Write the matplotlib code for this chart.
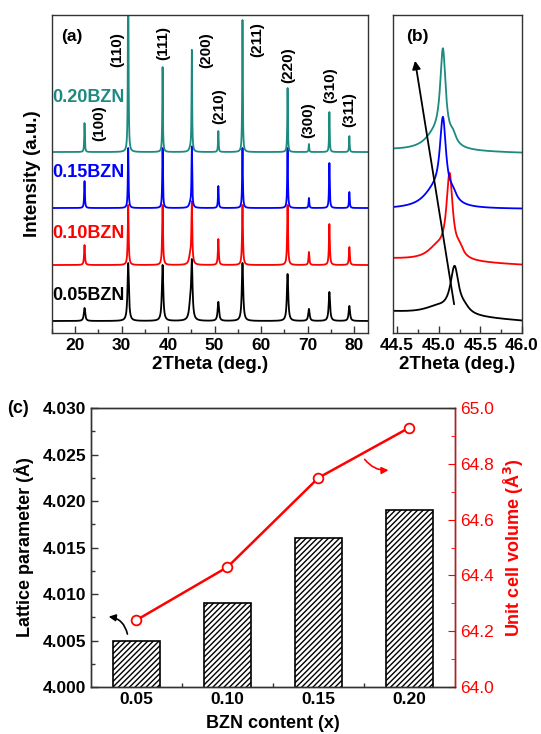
import numpy as np
import matplotlib
matplotlib.use("Agg")
import matplotlib.pyplot as plt
from matplotlib.ticker import MultipleLocator, FixedLocator

plt.rcParams['font.family'] = ['Liberation Sans', 'DejaVu Sans']
plt.rcParams['font.weight'] = 'bold'
plt.rcParams['axes.labelweight'] = 'bold'
plt.rcParams['axes.linewidth'] = 1.0

# samples, bottom to top
SAMPLES = ["0.05BZN", "0.10BZN", "0.15BZN", "0.20BZN"]
COLORS = ["#000000", "#ff0000", "#0000ff", "#1d8a80"]
OFFSETS = [12, 68, 125, 181]
FWHM = [0.35, 0.22, 0.18, 0.15]

# (a) full pattern: reflections and peak heights above each baseline
HKL = ["(100)", "(110)", "(111)", "(200)", "(210)", "(211)", "(220)", "(300)", "(310)", "(311)"]
PEAK_POS = [22.0, 31.4, 38.8, 45.1, 50.8, 56.0, 65.7, 70.3, 74.7, 79.0]
HEIGHTS = [
    [13, 58, 56, 56, 19, 58, 47, 12, 29, 15],
    [20, 60, 60, 60, 26, 60, 60, 13, 41, 18],
    [27, 60, 60, 60, 22, 60, 60, 10, 45, 16],
    [29, 220, 85, 101, 21, 132, 64, 8, 40, 16],
]
SHOULDER_H = [14, 9, 4, 3]   # low-angle shoulder of (200)
HKL_X = [25.1, 29.0, 38.9, 48.1, 50.9, 59.1, 65.8, 70.1, 74.8, 78.9]
HKL_Y = [210, 283, 290, 283, 227, 293, 268, 213, 248, 223]
NAME_Y = [38, 100, 161, 236]

# (b) (200) region
B_POS = [45.19, 45.13, 45.05, 45.05]
B_H = [46, 82, 80, 92]
B_W = [0.12, 0.09, 0.09, 0.08]
B_SH_POS = [44.98, 44.98, 44.94, 44.95]
B_SH_H = [7, 12, 16, 14]
B_SH_W = [0.40, 0.28, 0.32, 0.30]
B_BASE_L = [21, 74, 124, 183]
B_BASE_R = [12, 68, 124, 180]

# (c) lattice parameter and cell volume
BZN_X = [0.05, 0.10, 0.15, 0.20]
BZN_LABELS = ["0.05", "0.10", "0.15", "0.20"]
LATTICE = [4.005, 4.009, 4.016, 4.019]
VOLUME = [64.24, 64.43, 64.75, 64.93]

SPINE = "#333333"


def lorentz(x, x0, h, w):
    g = w / 2.0
    return h * g**2 / ((x - x0)**2 + g**2)


def style_axes(ax):
    for s in ax.spines.values():
        s.set_color(SPINE)
    ax.tick_params(which='both', direction='in', colors=SPINE, labelcolor='black',
                   labelsize=12.5, width=1.0)
    ax.tick_params(which='major', length=5)
    ax.tick_params(which='minor', length=3)


fig = plt.figure(figsize=(5.41, 7.34), dpi=100)

# ---- (a) ----
axa = fig.add_axes([0.0961, 0.5463, 0.584, 0.4332])
xa = np.linspace(15, 83, 8000)
for i in range(4):
    y = np.full_like(xa, OFFSETS[i], dtype=float)
    for p, h in zip(PEAK_POS, HEIGHTS[i]):
        y += lorentz(xa, p, h, FWHM[i])
    y += lorentz(xa, 44.75, SHOULDER_H[i], 0.6)
    axa.plot(xa, y, color=COLORS[i], lw=1.3)
    axa.text(30.7, NAME_Y[i], SAMPLES[i], color=COLORS[i], fontsize=13,
             ha='right', va='center')
for lab, hx, hy in zip(HKL, HKL_X, HKL_Y):
    axa.text(hx, hy, lab, rotation=90, fontsize=11, ha='center', va='center')
axa.set_xlim(15, 83)
axa.set_ylim(0, 318)
axa.set_yticks([])
axa.xaxis.set_major_locator(MultipleLocator(10))
axa.xaxis.set_minor_locator(MultipleLocator(5))
style_axes(axa)
axa.set_xlabel("2Theta (deg.)", fontsize=13.5, labelpad=2)
axa.set_ylabel("Intensity (a.u.)", fontsize=13.5, labelpad=8)
axa.text(0.03, 0.955, "(a)", transform=axa.transAxes, fontsize=12.5, va='top')

# ---- (b) ----
axb = fig.add_axes([0.7264, 0.5463, 0.2384, 0.4332])
xb = np.linspace(44.45, 46.0, 1500)
for i in range(4):
    base = B_BASE_L[i] + (B_BASE_R[i] - B_BASE_L[i]) * (xb - 44.45) / 1.55
    y = base + lorentz(xb, B_POS[i], B_H[i], B_W[i])
    y += lorentz(xb, B_POS[i] + 0.12, 0.1 * B_H[i], B_W[i] * 1.2)
    y += lorentz(xb, B_SH_POS[i], B_SH_H[i], B_SH_W[i])
    axb.plot(xb, y, color=COLORS[i], lw=1.3)
axb.annotate("", xy=(44.71, 275), xytext=(45.19, 26),
             arrowprops=dict(arrowstyle='-|>', color='black', lw=1.3, mutation_scale=12))
axb.set_xlim(44.45, 46.0)
axb.set_ylim(0, 318)
axb.set_yticks([])
axb.set_xticks([44.5, 45.0, 45.5, 46.0])
axb.set_xticklabels(["44.5", "45.0", "45.5", "46.0"])
axb.xaxis.set_minor_locator(MultipleLocator(0.25))
style_axes(axb)
axb.set_xlabel("2Theta (deg.)", fontsize=13.5, labelpad=2)
axb.text(0.1, 0.955, "(b)", transform=axb.transAxes, fontsize=12.5, va='top')

# ---- (c) ----
axc = fig.add_axes([0.1682, 0.064, 0.6728, 0.3801])
axc.bar(BZN_X, LATTICE, width=0.026, bottom=0, color='white', edgecolor='black',
        hatch='//////', lw=1.2, zorder=2)
axc.set_xlim(0.025, 0.225)
axc.set_ylim(4.000, 4.030)
axc.set_xticks(BZN_X)
axc.set_xticklabels(BZN_LABELS)
axc.xaxis.set_minor_locator(FixedLocator([0.075, 0.125, 0.175]))
axc.yaxis.set_major_locator(MultipleLocator(0.005))
axc.yaxis.set_minor_locator(MultipleLocator(0.0025))
axc.set_yticklabels([f"{v:.3f}" for v in axc.get_yticks()])
style_axes(axc)
axc.set_xlabel("BZN content (x)", fontsize=13, labelpad=6)
axc.set_ylabel("Lattice parameter (Å)", fontsize=13, labelpad=6)
axc.text(-0.23, 1.0, "(c)", transform=axc.transAxes, fontsize=13, va='center')
axc.annotate("", xy=(0.0332, 4.0076), xytext=(0.0453, 4.0054),
             arrowprops=dict(arrowstyle='-|>', color='black', lw=1.2, mutation_scale=10,
                             connectionstyle="arc3,rad=0.4"))

axr = axc.twinx()
axr.plot(BZN_X, VOLUME, color='red', lw=1.8, marker='o', ms=7,
         mfc='white', mec='red', mew=1.3)
axr.set_ylim(64.0, 65.0)
axr.yaxis.set_major_locator(MultipleLocator(0.2))
axr.yaxis.set_minor_locator(MultipleLocator(0.1))
axr.set_yticklabels([f"{v:.1f}" for v in axr.get_yticks()], fontweight='normal')
axr.tick_params(axis='y', which='both', direction='in', colors='red', labelcolor='red',
                labelsize=12.5)
axr.tick_params(axis='y', which='major', length=5)
axr.tick_params(axis='y', which='minor', length=3)
axr.spines['right'].set_color('red')
axr.spines['left'].set_color(SPINE)
axr.spines['top'].set_color(SPINE)
axr.spines['bottom'].set_color(SPINE)
axr.set_ylabel("Unit cell volume (Å$^3$)", color='red', fontsize=13, labelpad=6)
axr.annotate("", xy=(0.190, 64.778), xytext=(0.1745, 64.824),
             arrowprops=dict(arrowstyle='-|>', color='red', lw=1.2, mutation_scale=10,
                             connectionstyle="arc3,rad=0.3"))

fig.savefig("out.png", dpi=100)
